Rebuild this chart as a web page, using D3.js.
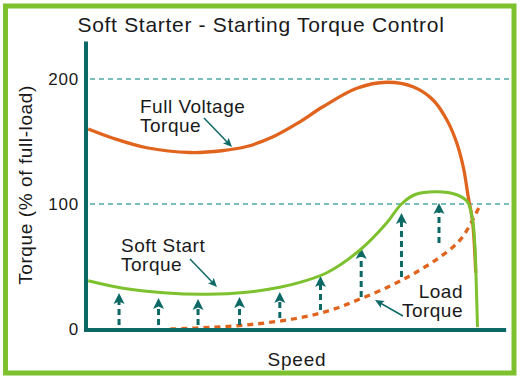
<!DOCTYPE html>
<html>
<head>
<meta charset="utf-8">
<script src="https://cdn.jsdelivr.net/npm/d3@7"></script>
<style>
  body { margin: 0; background: #fff; }
  svg { display: block; font-family: "Liberation Sans", Arial, sans-serif; }
</style>
</head>
<body>
<script>
// speed (% of sync speed), torque (% of full-load)
const fullVoltage = [
  [1.2, 160], [7.5, 152.6], [16, 145], [27, 141.2], [35, 142.6], [41.3, 146],
  [48, 153.8], [54.3, 164.8], [60.6, 177.8], [69.2, 192.6], [76.8, 197.4],
  [83.4, 193.8], [88.5, 183.2], [92, 167.2], [94.5, 148.8], [96.2, 128.8],
  [97.4, 105.8], [98.5, 85.8], [99.3, 45]
]
const softStart = [
  [1.2, 38.6], [10, 32.6], [20.2, 29], [31.2, 27.8], [41.3, 29.4], [49.7, 33.4],
  [55, 37.5], [61.6, 45], [70, 63.2], [76.8, 85], [80.5, 100], [84, 107.6],
  [89.4, 109.8], [94.5, 107.4], [97.2, 101.8], [98.5, 87.2], [99.1, 65.8],
  [99.5, 28.6], [99.75, 1.5]
]
const loadTorque = [
  [22, 0], [33, 1.4], [43, 3.8], [53, 8], [62, 14.5], [70, 24], [78, 35],
  [84, 45], [90, 57], [95, 70], [98, 84], [100.5, 100]
]
// boost arrows between load torque and soft start torque
const arrowSpeed = [9, 19, 29, 39.5, 49.7, 60, 70.3, 80.5, 90]
const arrowFrom = [3.2, 3.2, 3.2, 3.2, 8.8, 15.2, 25.6, 41.6, 68.8]
const arrowTo = [28.8, 24.8, 24, 25.6, 29.6, 42.4, 64.8, 92.8, 100.8]

const yTicks = [0, 100, 200]
const gridValues = [100, 200]
const titleText = "Soft Starter - Starting Torque Control"
const yLabel = "Torque (% of full-load)"
const xLabel = "Speed"

const width = 520
const height = 378
const teal = "#0d6966"
const orange = "#e0641e"
const green = "#7dc12f"
const ink = "#1a1a1a"

const svg = d3.select("body").append("svg")
  .attr("width", width)
  .attr("height", height)

const x = d3.scaleLinear().domain([0, 100]).range([83.5, 478.5])
const y = d3.scaleLinear().domain([0, 200]).range([329, 79])

// outer frame
svg.append("rect")
  .attr("x", 5.5).attr("y", 6)
  .attr("width", 508.5).attr("height", 367)
  .attr("fill", "none")
  .attr("stroke", green)
  .attr("stroke-width", 5)

svg.append("text")
  .attr("x", 261).attr("y", 31.5)
  .attr("text-anchor", "middle")
  .attr("font-size", 21)
  .attr("letter-spacing", 0.7)
  .attr("fill", ink)
  .text(titleText)

// dashed reference lines
svg.selectAll(".grid")
  .data(gridValues)
  .join("line")
  .attr("class", "grid")
  .attr("x1", 90).attr("x2", 510)
  .attr("y1", d => y(d)).attr("y2", d => y(d))
  .attr("stroke", "#4fa8a6")
  .attr("stroke-width", 1.5)
  .attr("stroke-dasharray", "5,4")

const line = d3.line()
  .x(d => x(d[0]))
  .y(d => y(d[1]))
  .curve(d3.curveCatmullRom.alpha(0.5))

svg.append("path")
  .attr("d", line(fullVoltage))
  .attr("fill", "none")
  .attr("stroke", orange)
  .attr("stroke-width", 3.3)

svg.append("path")
  .attr("d", line(loadTorque))
  .attr("fill", "none")
  .attr("stroke", orange)
  .attr("stroke-width", 3.3)
  .attr("stroke-dasharray", "6,5")

// boost arrows
const arrows = svg.selectAll(".boost")
  .data(arrowSpeed.map((s, i) => ({ s: s, from: arrowFrom[i], to: arrowTo[i] })))
  .join("g")
  .attr("class", "boost")

arrows.append("line")
  .attr("x1", d => x(d.s)).attr("x2", d => x(d.s))
  .attr("y1", d => y(d.from)).attr("y2", d => y(d.to) + 8)
  .attr("stroke", teal)
  .attr("stroke-width", 3)
  .attr("stroke-dasharray", "6,4")

arrows.append("path")
  .attr("transform", d => `translate(${x(d.s)},${y(d.to)})`)
  .attr("d", "M0,0 L5.5,11 L0,8.5 L-5.5,11 Z")
  .attr("fill", teal)

svg.append("path")
  .attr("d", line(softStart))
  .attr("fill", "none")
  .attr("stroke", green)
  .attr("stroke-width", 3)

// axes
svg.append("line")
  .attr("x1", 86).attr("x2", 86)
  .attr("y1", y(230)).attr("y2", y(0) + 3)
  .attr("stroke", teal)
  .attr("stroke-width", 4)

svg.append("line")
  .attr("x1", 84).attr("x2", x(107))
  .attr("y1", y(0) + 1).attr("y2", y(0) + 1)
  .attr("stroke", teal)
  .attr("stroke-width", 4)

const yAxis = svg.append("g")
  .attr("transform", "translate(86,0)")
  .call(d3.axisLeft(y).tickValues(yTicks).tickSize(0).tickPadding(7).tickFormat(d3.format("d")))
yAxis.select(".domain").remove()
yAxis.selectAll("text")
  .attr("font-size", 17)
  .attr("letter-spacing", 0.8)
  .attr("font-family", "Liberation Sans, Arial, sans-serif")
  .attr("fill", ink)

svg.append("text")
  .attr("transform", "translate(32,185) rotate(-90)")
  .attr("text-anchor", "middle")
  .attr("font-size", 19)
  .attr("letter-spacing", 0.6)
  .attr("fill", ink)
  .text(yLabel)

svg.append("text")
  .attr("x", 297).attr("y", 366)
  .attr("text-anchor", "middle")
  .attr("font-size", 19)
  .attr("letter-spacing", 0.8)
  .attr("fill", ink)
  .text(xLabel)

// curve annotations
const notes = [
  { lines: ["Full Voltage", "Torque"], x: 140, y: 113, anchor: "start", from: [204, 118], to: [232, 147] },
  { lines: ["Soft Start", "Torque"], x: 121, y: 251.5, anchor: "start", from: [190, 259], to: [217, 287] },
  { lines: ["Load", "Torque"], x: 463, y: 298, anchor: "end", from: [403, 316], to: [375, 300] }
]

notes.forEach(n => {
  const t = svg.append("text")
    .attr("font-size", 19)
    .attr("letter-spacing", 0.5)
    .attr("fill", ink)
    .attr("text-anchor", n.anchor)
  n.lines.forEach((l, i) => {
    t.append("tspan").attr("x", n.x).attr("y", n.y + i * 19).text(l)
  })
  const dx = n.to[0] - n.from[0]
  const dy = n.to[1] - n.from[1]
  const len = Math.sqrt(dx * dx + dy * dy)
  const ux = dx / len, uy = dy / len
  svg.append("line")
    .attr("x1", n.from[0]).attr("y1", n.from[1])
    .attr("x2", n.to[0] - ux * 6).attr("y2", n.to[1] - uy * 6)
    .attr("stroke", teal)
    .attr("stroke-width", 1.5)
  const ang = Math.atan2(dy, dx) * 180 / Math.PI
  svg.append("path")
    .attr("transform", `translate(${n.to[0]},${n.to[1]}) rotate(${ang})`)
    .attr("d", "M0,0 L-9,-4 L-7,0 L-9,4 Z")
    .attr("fill", teal)
})
</script>
</body>
</html>
